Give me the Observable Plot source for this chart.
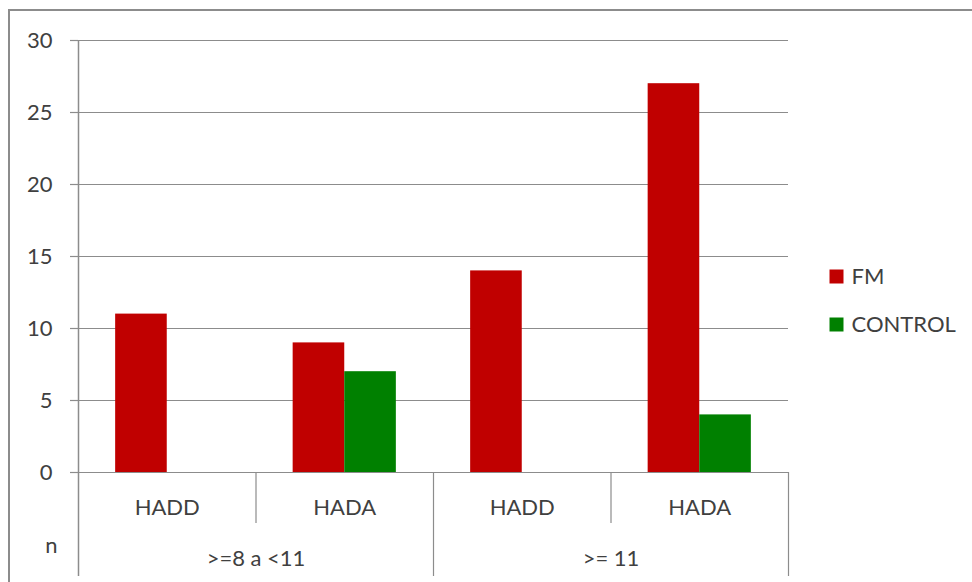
<!DOCTYPE html>
<html><head><meta charset="utf-8">
<script src="https://cdn.jsdelivr.net/npm/d3@7"></script>
<script src="https://cdn.jsdelivr.net/npm/@observablehq/plot@0.6"></script>
<style>
html,body{margin:0;padding:0;background:#fff;}
#wrap{position:relative;width:972px;height:582px;overflow:hidden;font-family:Lato,sans-serif;}
#wrap svg{position:absolute;left:0;top:0;}
#border{position:absolute;left:8px;top:9px;width:1200px;height:1200px;border-left:2px solid #8c8c8c;border-top:2px solid #8c8c8c;pointer-events:none;}
</style></head><body><div id="wrap"><div id="border"></div></div>
<script>
// ---- data ----
const categories = ["HADD", "HADA", "HADD", "HADA"];
const groups = [">=8 a <11", ">= 11"];
const categoryGroup = [0, 0, 1, 1];
const series = ["FM", "CONTROL"];
const fmValues = [11, 9, 14, 27];
const controlValues = [0, 7, 0, 4];
const yTicks = [0, 5, 10, 15, 20, 25, 30];
const seriesColors = ["#C00000", "#008000"];
const rowLabel = "n";

// ---- layout helpers ----
const textColor = "#404040";
const lineColor = "#8c8c8c";
const catBand = d3.scaleBand().domain(d3.range(categories.length)).range([0, categories.length]).padding(0);
const serBand = d3.scaleBand().domain(series).range([0, 1]).paddingInner(0).paddingOuter(0.72);
const seriesValues = [fmValues, controlValues];
const rows = categories.flatMap((c, i) => series.map((s, j) => ({
  idx: i, cat: c, series: s, value: seriesValues[j][i],
  x1: catBand(i) + serBand(s) * catBand.bandwidth(),
  x2: catBand(i) + (serBand(s) + serBand.bandwidth()) * catBand.bandwidth()
})));
// vertical extent (in y units) of the category axis rows below zero
const pxPerUnit = 432 / 30;
const row1Bottom = -51 / pxPerUnit;
const row2Bottom = -104 / pxPerUnit;
const boundaries = d3.range(1, categories.length + 1);
const groupCenters = groups.map((g, gi) => {
  const idx = categoryGroup.map((v, i) => v === gi ? i : -1).filter(i => i >= 0);
  return {label: g, x: (d3.min(idx) + d3.max(idx) + 1) / 2};
});

const chart = Plot.plot({
  width: 972,
  height: 582,
  marginLeft: 78,
  marginRight: 184,
  marginTop: 40,
  marginBottom: 110,
  style: {fontFamily: "Lato, sans-serif", fontSize: "22px", color: textColor, background: "transparent"},
  x: {domain: [0, categories.length], axis: null},
  y: {domain: [0, 30], axis: null},
  color: {domain: series, range: seriesColors},
  marks: [
    Plot.gridY(yTicks, {stroke: lineColor, strokeOpacity: 1, strokeWidth: 1.2}),
    Plot.axisY(yTicks, {anchor: "left", tickSize: 8, tickPadding: 18, stroke: lineColor, strokeWidth: 1.2, fill: textColor, fontSize: 22, label: null}),
    Plot.rectY(rows.filter(d => d.value > 0), {x1: "x1", x2: "x2", y1: 0, y2: "value", fill: "series"}),
    Plot.ruleX([0], {y1: 30, y2: row2Bottom, stroke: lineColor, strokeWidth: 1.5}),
    Plot.ruleX(boundaries, {
      x: d => d, y1: 0,
      y2: d => (d === categories.length || categoryGroup[d] !== categoryGroup[d - 1]) ? row2Bottom : row1Bottom,
      stroke: lineColor, strokeWidth: 1.2
    }),
    Plot.text(categories, {x: (d, i) => catBand(i) + catBand.bandwidth() / 2, y: 0, dy: 35, text: d => d, fill: textColor, fontSize: 22}),
    Plot.text(groupCenters, {x: "x", y: 0, dy: 86, text: "label", fill: textColor, fontSize: 22}),
    Plot.text([rowLabel], {x: 0, y: 0, dx: -21, dy: 73, text: d => d, textAnchor: "end", fill: textColor, fontSize: 22}),
    ...series.map((s, j) => Plot.dot([s], {frameAnchor: "right", dx: 48, dy: 20 + 48 * j, symbol: "square", r: 7.9, fill: d => d, stroke: null})),
    ...series.map((s, j) => Plot.text([s], {frameAnchor: "right", dx: 63, dy: 20 + 48 * j, text: d => d, textAnchor: "start", fill: textColor, fontSize: 22}))
  ]
});
document.getElementById("wrap").prepend(chart);
</script>
</body></html>
